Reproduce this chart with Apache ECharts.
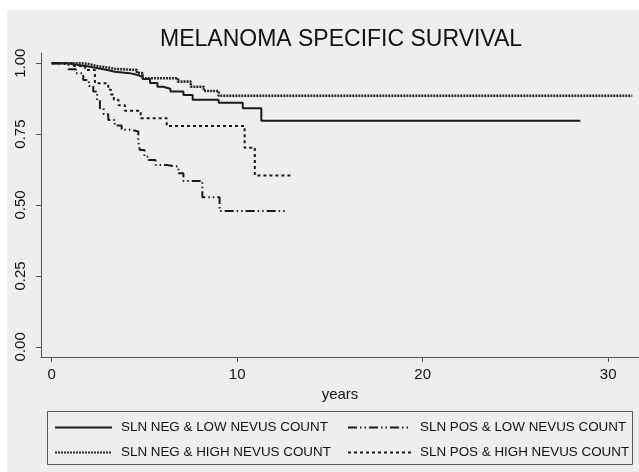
<!DOCTYPE html>
<html>
<head>
<meta charset="utf-8">
<script src="https://cdn.jsdelivr.net/npm/echarts@6/dist/echarts.min.js"></script>
<style>
html,body{margin:0;padding:0;background:#fff;}
#chart{width:639px;height:472px;}
</style>
</head>
<body>
<div id="chart"></div>
<script>
var titleText = 'MELANOMA SPECIFIC SURVIVAL';
var xName = 'years';
var xTicks = [0, 10, 20, 30];
var yTicks = [0, 0.25, 0.5, 0.75, 1];
var seriesNames = ['SLN NEG & LOW NEVUS COUNT', 'SLN NEG & HIGH NEVUS COUNT', 'SLN POS & LOW NEVUS COUNT', 'SLN POS & HIGH NEVUS COUNT'];

// [years, survival]
var negLow = [[0,1],[0.8,0.996],[1.2,0.992],[1.6,0.988],[2.0,0.982],[2.5,0.976],[3.0,0.97],[3.4,0.965],[4.2,0.959],[4.6,0.952],[4.9,0.944],[5.3,0.93],[5.7,0.917],[6.0,0.91],[6.4,0.9],[7.1,0.888],[7.6,0.871],[9.0,0.861],[10.3,0.841],[11.3,0.797],[28.5,0.797]];
var negHigh = [[0,1],[1.6,0.997],[2.0,0.99],[2.4,0.985],[3.0,0.98],[3.4,0.976],[4.6,0.965],[4.9,0.947],[6.8,0.935],[7.5,0.917],[8.2,0.902],[9.0,0.885],[31.3,0.885]];
var posLow = [[0,1],[0.5,0.995],[0.9,0.979],[1.3,0.965],[1.7,0.941],[2.0,0.92],[2.24,0.9],[2.45,0.87],[2.6,0.841],[2.8,0.82],[3.05,0.8],[3.4,0.78],[3.77,0.765],[4.3,0.759],[4.67,0.723],[4.75,0.694],[5.0,0.67],[5.21,0.659],[5.6,0.641],[6.2,0.635],[6.83,0.612],[7.1,0.585],[8.12,0.527],[9.05,0.479],[12.6,0.479]];
var posHigh = [[0,1],[1.2,0.99],[1.8,0.976],[2.33,0.929],[3.05,0.906],[3.2,0.89],[3.35,0.871],[3.6,0.852],[3.95,0.832],[4.8,0.806],[6.2,0.779],[10.4,0.702],[10.95,0.604],[13.0,0.604]];

var FONT = '"Liberation Sans", Arial, sans-serif';
var chart = echarts.init(document.getElementById('chart'), null, {renderer: 'canvas'});

function mk(name, data, style) {
  return {
    name: name, type: 'line', step: 'end', data: data,
    symbol: 'none', showSymbol: false, animation: false,
    lineStyle: style, z: 3
  };
}

var legendCommon = {
  orient: 'vertical', top: 416, itemHeight: 14, itemGap: 12,
  textStyle: {fontFamily: FONT, fontSize: 13.4, color: '#111', padding: [0, 0, 0, 4]},
  itemStyle: {opacity: 0},
  selectedMode: false
};

var option = {
  backgroundColor: 'transparent',
  animation: false,
  textStyle: {fontFamily: FONT},
  title: {
    text: titleText, left: 155, top: 23,
    textStyle: {fontFamily: FONT, fontSize: 23, fontWeight: 'normal', color: '#111'}
  },
  graphic: [
    {type: 'rect', z: -100, shape: {x: 7, y: 10, width: 632, height: 462}, style: {fill: '#eeeeee'}},
    {type: 'rect', z: 100, shape: {x: 47.5, y: 411.5, width: 585, height: 53}, style: {fill: 'none', stroke: '#555', lineWidth: 1}}
  ],
  grid: {left: 41, right: 0, top: 53, bottom: 115},
  xAxis: {
    type: 'value', min: -0.577, max: 31.66,
    name: xName, nameLocation: 'middle', nameGap: 26,
    nameTextStyle: {fontFamily: FONT, fontSize: 15, color: '#111'},
    axisLine: {show: true, onZero: false, lineStyle: {color: '#555', width: 1}},
    axisTick: {show: true, length: 5, customValues: xTicks, lineStyle: {color: '#555'}},
    axisLabel: {customValues: xTicks, margin: 10, fontFamily: FONT, fontSize: 15, color: '#111'},
    splitLine: {show: false}
  },
  yAxis: {
    type: 'value', min: -0.036, max: 1.036,
    axisLine: {show: true, onZero: false, lineStyle: {color: '#555', width: 1}},
    axisTick: {show: true, length: 5, customValues: yTicks, lineStyle: {color: '#555'}},
    axisLabel: {customValues: yTicks, rotate: 90, margin: 13, fontFamily: FONT, fontSize: 15, color: '#111',
      formatter: function (v) { return v.toFixed(2); }},
    splitLine: {show: false}
  },
  legend: [
    Object.assign({}, legendCommon, {data: [seriesNames[0], seriesNames[1]], left: 49, itemWidth: 57}),
    Object.assign({}, legendCommon, {data: [seriesNames[2], seriesNames[3]], left: 342, itemWidth: 63})
  ],
  series: [
    mk(seriesNames[0], negLow, {color: '#1a1a1a', width: 2, type: 'solid'}),
    mk(seriesNames[1], negHigh, {color: '#2a2a2a', width: 2.6, type: [2, 1]}),
    mk(seriesNames[2], posLow, {color: '#1a1a1a', width: 2, type: [9, 3, 1.5, 3, 1.5, 3]}),
    mk(seriesNames[3], posHigh, {color: '#1a1a1a', width: 2, type: [3, 3]})
  ]
};
chart.setOption(option);
</script>
</body>
</html>
